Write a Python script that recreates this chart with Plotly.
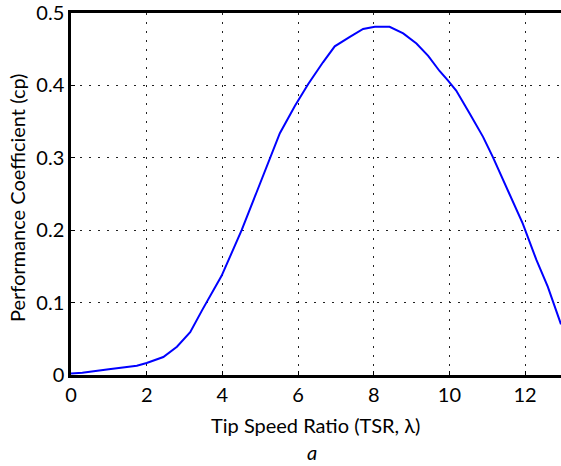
import plotly.graph_objects as go

tsr = [0.0, 0.3, 1.0, 1.74, 2.0, 2.44, 2.8, 3.15, 3.47, 3.85, 3.98, 4.51, 5.0, 5.35,
       5.52, 5.92, 6.27, 6.66, 6.97, 7.37, 7.72, 8.03, 8.42, 8.78, 9.13, 9.44, 9.74,
       9.96, 10.18, 10.54, 10.89, 11.15, 11.55, 11.94, 12.3, 12.6, 12.95]
cp = [0.002, 0.003, 0.008, 0.0128, 0.0165, 0.0248, 0.039, 0.059, 0.09, 0.124, 0.137,
      0.2, 0.264, 0.31, 0.334, 0.372, 0.402, 0.432, 0.454, 0.467, 0.478, 0.481, 0.481,
      0.472, 0.458, 0.441, 0.42, 0.407, 0.393, 0.361, 0.329, 0.301, 0.255, 0.209,
      0.159, 0.122, 0.07]

x_ticks = [0, 2, 4, 6, 8, 10, 12]
y_ticks = [0, 0.1, 0.2, 0.3, 0.4, 0.5]
y_tick_text = ["0", "0.1", "0.2", "0.3", "0.4", "0.5"]

x_title = "Tip Speed Ratio (TSR, λ)"
y_title = "Performance Coefficient (cp)"
caption = "<i>a</i>"

FONT = "Lato, 'Open Sans', sans-serif"
L, R, T, B, W, H = 71, 0, 13, 91, 561, 466
PW, PH = W - L - R, H - T - B

fig = go.Figure(go.Scatter(x=tsr, y=cp, mode="lines",
                           line=dict(color="#0000ff", width=2)))

axis_common = dict(
    showgrid=True, gridcolor="#222", griddash="1.5px,7.5px", gridwidth=1.2,
    showline=True, linecolor="black", linewidth=2.5,
    ticks="inside", ticklen=4, tickcolor="black",
    tickfont=dict(size=20, family=FONT), zeroline=False, automargin=False,
    ticklabeloverflow="allow",
)

fig.update_layout(
    width=W, height=H,
    margin=dict(l=L, r=R, t=T, b=B),
    paper_bgcolor="white", plot_bgcolor="white",
    showlegend=False,
    font=dict(family=FONT, color="black"),
    xaxis=dict(range=[0, 12.95], tickvals=x_ticks, mirror=True, **axis_common),
    yaxis=dict(range=[0, 0.5001], tickvals=y_ticks, ticktext=y_tick_text, **axis_common),
    annotations=[
        dict(text=x_title, xref="paper", yref="paper", x=(315 - L) / PW,
             y=-(425 - (T + PH)) / PH, showarrow=False, xanchor="center", yanchor="middle",
             font=dict(size=20, family=FONT)),
        dict(text=y_title, xref="paper", yref="paper", x=-(L - 17) / PW,
             y=(T + PH - 198) / PH, showarrow=False, textangle=-90,
             xanchor="center", yanchor="middle", font=dict(size=20, family=FONT)),
        dict(text=caption, xref="paper", yref="paper", x=(312 - L) / PW,
             y=-(452 - (T + PH)) / PH, showarrow=False, xanchor="center", yanchor="middle",
             font=dict(size=20, family=FONT)),
    ],
)

fig.write_html(
    "out.html",
    config={"displayModeBar": False},
    post_script="document.body.style.margin='0';document.body.style.overflow='hidden';",
)
